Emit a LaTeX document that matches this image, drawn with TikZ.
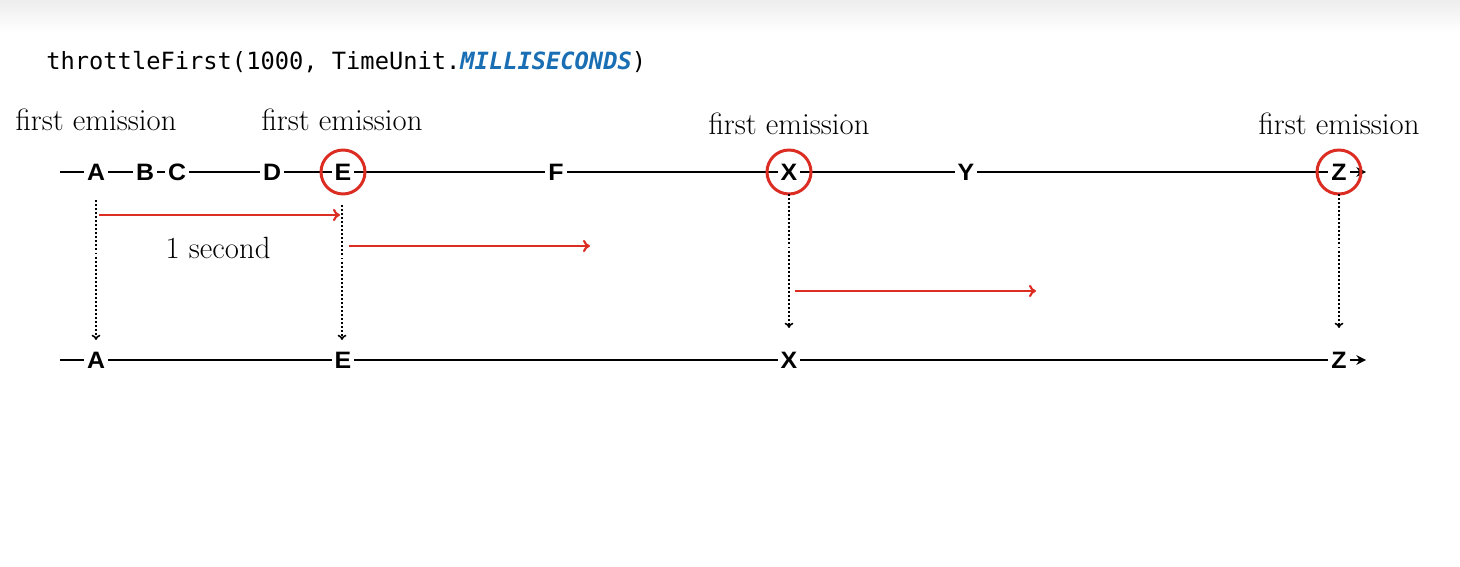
\documentclass[tikz,border=0pt]{standalone}
\usepackage{fontspec}
\newfontfamily\lettfont[FakeStretch=1.05]{Liberation Sans}
\newfontfamily\codefont{DejaVu Sans Mono}
\usetikzlibrary{arrows.meta}
\definecolor{rred}{RGB}{220,45,35}
\definecolor{cblue}{RGB}{25,110,180}
\begin{document}
\begin{tikzpicture}[x=0.02cm,y=-0.02cm,
  lett/.style={font=\lettfont\fontsize{13.5}{14}\selectfont\bfseries, fill=white, inner xsep=1.8pt, inner ysep=1pt},
  lbl/.style={font=\fontsize{17.5}{19}\selectfont, inner sep=0pt},
  tline/.style={line width=1.5pt, -{Stealth[length=5.5pt,width=5.5pt]}},
  ring/.style={draw=rred, line width=1.7pt, circle, minimum size=0.88cm, inner sep=0pt},
  dotarrow/.style={dash pattern=on 1.1pt off 1.2pt, line width=0.9pt, -{To[length=3pt,width=5pt]}},
  redarrow/.style={draw=rred, line width=1.2pt, -{To[length=4pt,width=7pt]}}]
\useasboundingbox (0,0) rectangle (1460,567);
\shade[top color=black!7, bottom color=white, draw=none] (0,0) rectangle (1460,32);
% title
\node[anchor=west, inner sep=0pt, font=\codefont\fontsize{13.5}{16}\selectfont] (title) at (46,62)
  {throttleFirst(1000, TimeUnit.\textcolor{cblue}{\bfseries\itshape MILLISECONDS})};
% timelines
\coordinate (tstart) at (60,172);
\coordinate (tend) at (1366,172);
\coordinate (bstart) at (60,360);
\coordinate (bend) at (1366,360);
\draw[tline] (tstart) -- (tend);
\draw[tline] (bstart) -- (bend);
% top letters
\node[lett] (tA) at (96,172) {A};
\node[lett] (tB) at (145,172) {B};
\node[lett] (tC) at (177,172) {C};
\node[lett] (tD) at (272,172) {D};
\node[lett] (tE) at (343,172) {E};
\node[lett] (tF) at (556,172) {F};
\node[lett] (tX) at (789,172) {X};
\node[lett] (tY) at (966,172) {Y};
\node[lett] (tZ) at (1339,172) {Z};
% bottom letters
\node[lett] (bA) at (96,360) {A};
\node[lett] (bE) at (343,360) {E};
\node[lett] (bX) at (789,360) {X};
\node[lett] (bZ) at (1339,360) {Z};
% rings
\node[ring] (cE) at (tE) {};
\node[ring] (cX) at (tX) {};
\node[ring] (cZ) at (tZ) {};
% labels
\node[lbl] (l1) at (96,120) {first emission};
\node[lbl] (l2) at (342,120) {first emission};
\node[lbl] (l3) at (789,124) {first emission};
\node[lbl] (l4) at (1339,124) {first emission};
\node[lbl] (sec) at (218,248) {1 second};
% dotted arrows
\coordinate (dA1) at (96,200); \coordinate (dA2) at (96,340);
\coordinate (dE1) at (342,205); \coordinate (dE2) at (342,340);
\coordinate (dX1) at (789,194); \coordinate (dX2) at (789,328);
\coordinate (dZ1) at (1339,194); \coordinate (dZ2) at (1339,328);
\draw[dotarrow] (dA1) -- (dA2);
\draw[dotarrow] (dE1) -- (dE2);
\draw[dotarrow] (dX1) -- (dX2);
\draw[dotarrow] (dZ1) -- (dZ2);
% red arrows
\coordinate (r1a) at (99,215); \coordinate (r1b) at (340,215);
\coordinate (r2a) at (349,246); \coordinate (r2b) at (590,246);
\coordinate (r3a) at (795,291); \coordinate (r3b) at (1036,291);
\draw[redarrow] (r1a) -- (r1b);
\draw[redarrow] (r2a) -- (r2b);
\draw[redarrow] (r3a) -- (r3b);
\end{tikzpicture}
\end{document}
